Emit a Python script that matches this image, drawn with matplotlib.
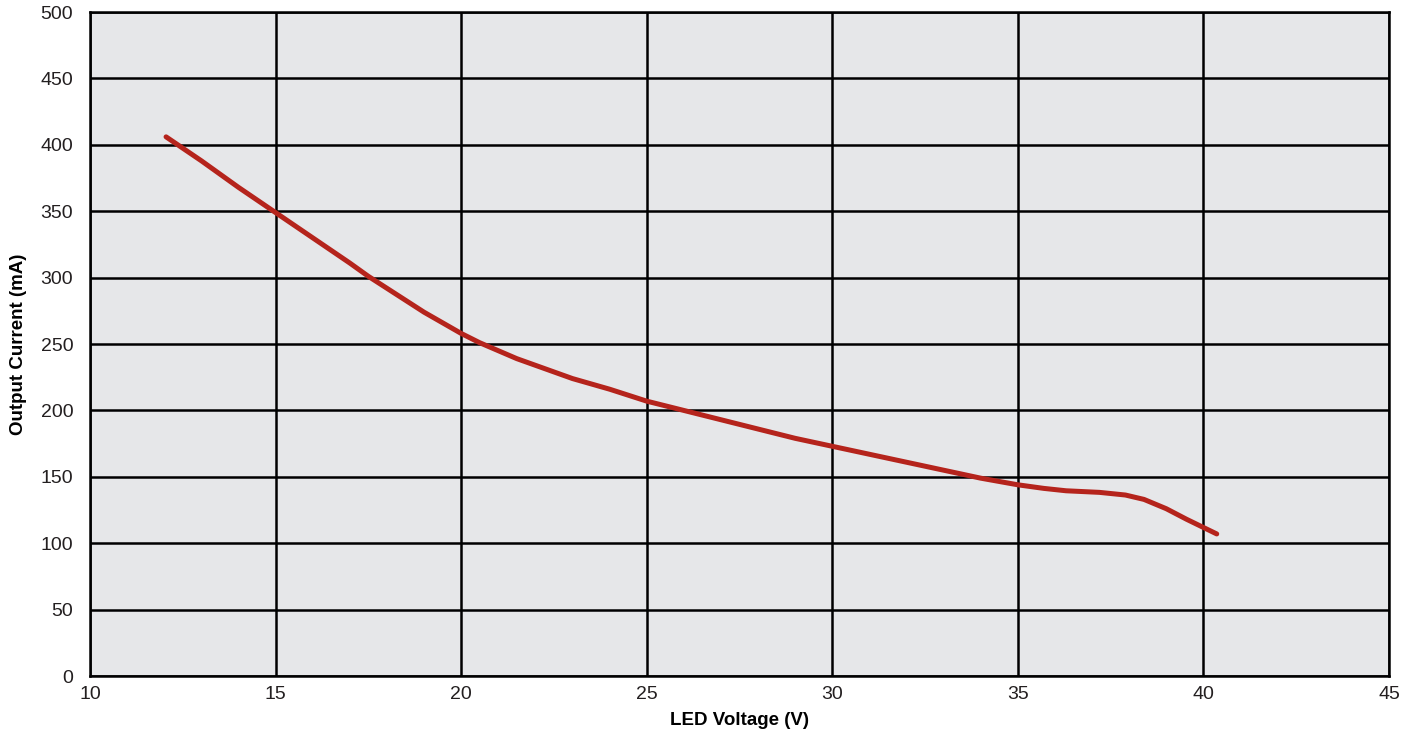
import matplotlib.pyplot as plt
import numpy as np

# values
voltage = [12.05, 13, 14, 15, 16, 17, 17.5, 18, 19, 20, 20.5, 21, 21.5, 22,
           23, 24, 25, 26, 27, 28, 29, 30, 31, 32, 33, 34, 35, 35.7, 36.3,
           37.2, 37.9, 38.4, 39.0, 39.55, 40.36]
current = [406, 388, 368, 349, 330, 311, 301, 292, 274, 258, 251, 245, 239,
           234, 224, 216, 207, 200, 193, 186, 179, 173, 167, 161, 155, 149,
           144, 141.3, 139.5, 138.3, 136.3, 133, 126, 118, 107]

xticks = [10, 15, 20, 25, 30, 35, 40, 45]
yticks = [0, 50, 100, 150, 200, 250, 300, 350, 400, 450, 500]

fig = plt.figure(figsize=(14.17, 7.42), dpi=100)
ax = fig.add_axes([0.0635, 0.0889, 0.9167, 0.8949])
ax.set_facecolor('#e6e7e9')

ax.plot(voltage, current, color='#b5241c', lw=3.6, solid_capstyle='round',
        solid_joinstyle='round', zorder=3)

ax.set_xlim(10, 45)
ax.set_ylim(0, 500)
ax.set_xticks(xticks)
ax.set_yticks(yticks)
ax.grid(True, color='black', lw=1.8, zorder=1)
ax.set_axisbelow(True)
for s in ax.spines.values():
    s.set_color('black')
    s.set_linewidth(1.8)

ax.tick_params(length=0, labelsize=14, colors='#231f20')
ax.tick_params(axis='y', pad=12)
ax.tick_params(axis='x', pad=7)
for lab in ax.get_xticklabels() + ax.get_yticklabels():
    lab.set_family(['Liberation Sans', 'DejaVu Sans'])

lab_font = dict(family=['Liberation Sans', 'DejaVu Sans'],
                weight='bold', size=13.5, color='black')
ax.set_xlabel('LED Voltage (V)', labelpad=7, **lab_font)
ax.set_ylabel('Output Current (mA)', labelpad=10, **lab_font)

fig.savefig('out.png', dpi=100)
